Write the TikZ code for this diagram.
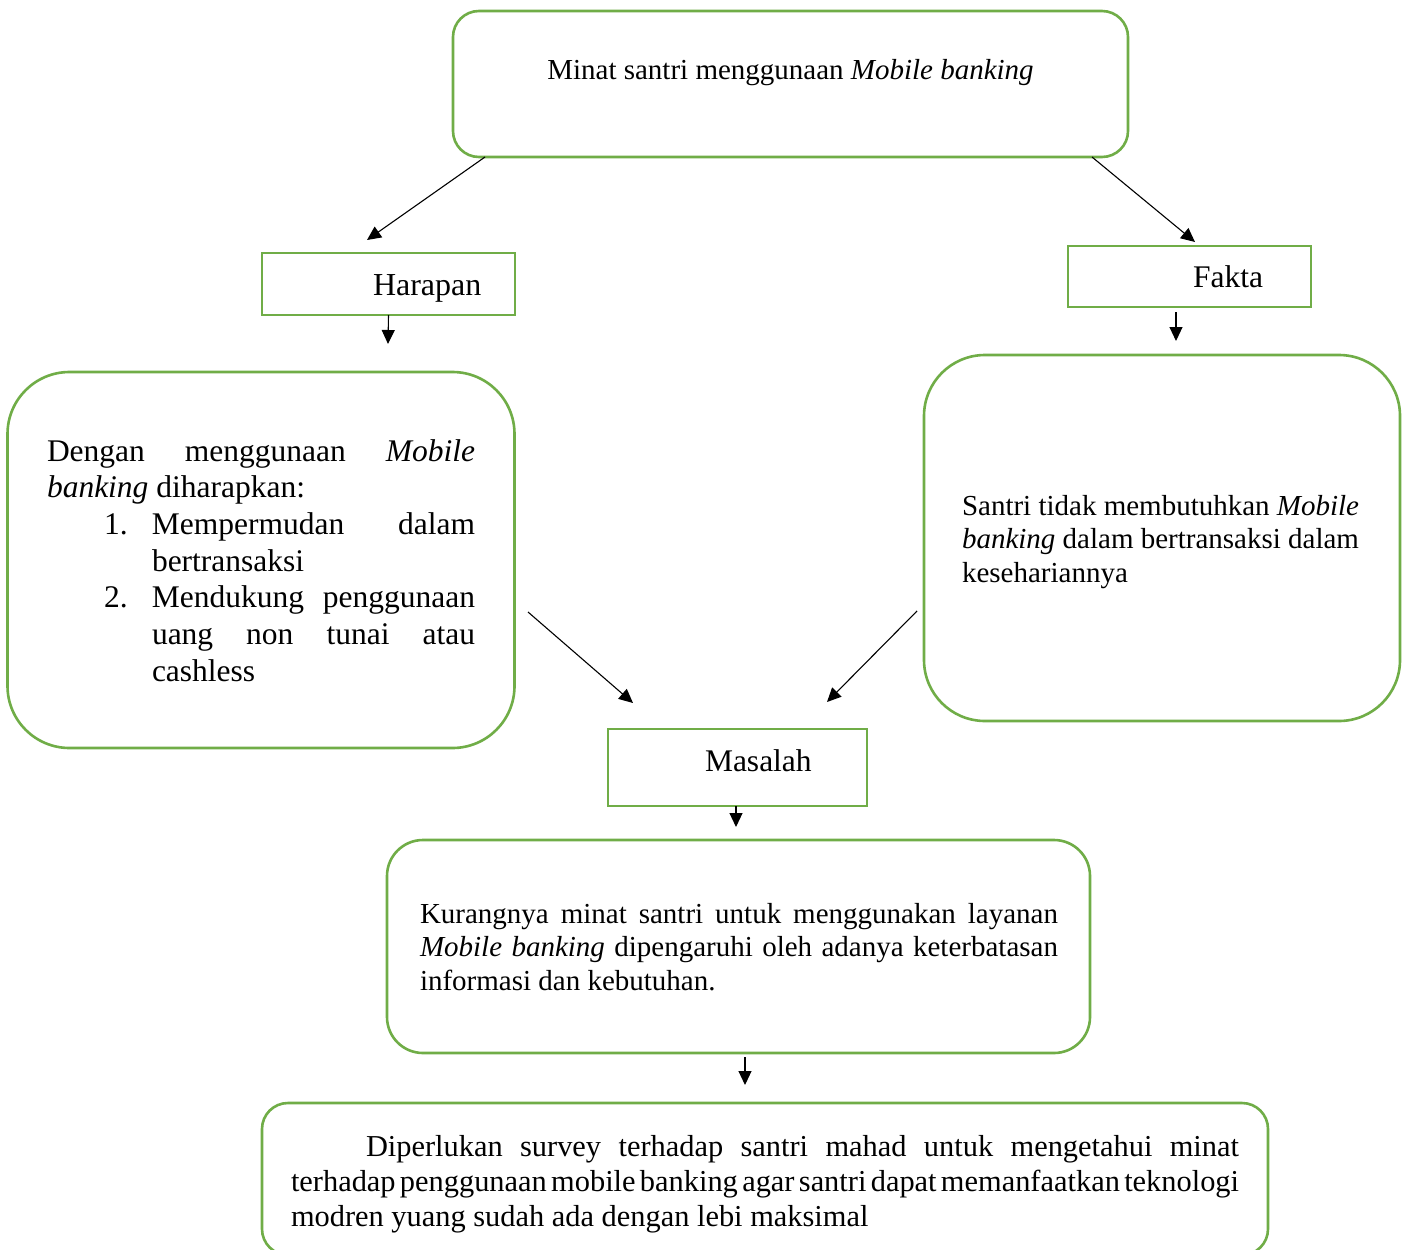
\documentclass[tikz,border=0pt]{standalone}
\usepackage{fontspec}
\setmainfont{Liberation Serif}
\usetikzlibrary{arrows.meta,calc}
\definecolor{boxgreen}{HTML}{70AD47}
\tikzset{
  gbox/.style={draw=boxgreen, line width=2.6pt, inner sep=0pt, outer sep=0pt},
  conn/.style={draw=black, line width=1.1pt, -{Triangle[length=14pt,width=13pt]}},
  txt/.style={inner sep=0pt, outer sep=0pt, anchor=base west, text=black},
}
\begin{document}
\begin{tikzpicture}[x=1pt,y=-1pt]
\useasboundingbox[fill=white] (0,0) rectangle (1408,1250);
\begin{scope}
\clip (0,0) rectangle (1408,1250);
% boxes
\node[gbox, rounded corners=26pt, minimum width=675pt, minimum height=146pt] (top) at (790.5,84) {};
\node[gbox, minimum width=253pt, minimum height=62pt] (harapan) at (388.5,284) {};
\node[gbox, minimum width=243pt, minimum height=61pt] (fakta) at (1189.5,276.5) {};
\node[gbox, rounded corners=62pt, minimum width=507pt, minimum height=376pt] (left) at (261,560) {};
\node[gbox, rounded corners=61pt, minimum width=476pt, minimum height=366pt] (right) at (1162,538) {};
\node[gbox, minimum width=259pt, minimum height=77pt] (masalah) at (737.5,767.5) {};
\node[gbox, rounded corners=36pt, minimum width=703pt, minimum height=213pt] (kurang) at (738.5,946.5) {};
\node[gbox, rounded corners=26pt, minimum width=1006pt, minimum height=152pt] (bottom) at (765,1179) {};
\end{scope}
% texts
\node[txt, anchor=base, font=\fontsize{29}{34}\selectfont] (toptext) at (790.5,79) {Minat santri menggunaan \textit{Mobile banking}};
\node[txt, font=\fontsize{32}{36}\selectfont] (hartext) at (373,295) {Harapan};
\node[txt, font=\fontsize{31.5}{36}\selectfont] (faktext) at (1193,287) {Fakta};
\node[txt, font=\fontsize{31.5}{36}\selectfont] (mastext) at (705,771) {Masalah};
\node[txt, font=\fontsize{31.5}{36.7}\selectfont] (lefttext) at (47,461) {\parbox[t]{428pt}{%
\makebox[428pt][s]{Dengan menggunaan \textit{Mobile}}\\
\textit{banking} diharapkan:\\
\hspace*{57pt}\makebox[48pt][l]{1.}\makebox[323pt][s]{Mempermudan dalam}\\
\hspace*{105pt}bertransaksi\\
\hspace*{57pt}\makebox[48pt][l]{2.}\makebox[323pt][s]{Mendukung penggunaan}\\
\hspace*{105pt}\makebox[323pt][s]{uang non tunai atau}\\
\hspace*{105pt}cashless}};
\node[txt, font=\fontsize{29}{33.5}\selectfont] (righttext) at (962,515) {\parbox[t]{420pt}{%
Santri tidak membutuhkan \textit{Mobile}\\
\textit{banking} dalam bertransaksi dalam\\
kesehariannya}};
\node[txt, font=\fontsize{29}{33.5}\selectfont] (kurtext) at (420,923) {\parbox[t]{638pt}{%
\makebox[638pt][s]{Kurangnya minat santri untuk menggunakan layanan}\\
\makebox[638pt][s]{\textit{Mobile banking} dipengaruhi oleh adanya keterbatasan}\\
informasi dan kebutuhan.}};
\node[txt, font=\fontsize{30.4}{35}\selectfont] (bottext) at (291,1156) {\parbox[t]{948pt}{%
\spaceskip=0.25em plus 0.3em minus 0.12em
\hspace*{75pt}\makebox[873pt][s]{Diperlukan survey terhadap santri mahad untuk mengetahui minat}\\
\makebox[948pt][s]{terhadap penggunaan mobile banking agar santri dapat memanfaatkan teknologi}\\
modren yuang sudah ada dengan lebi maksimal}};
% free arrow ends
\coordinate (harTip) at (367,240);
\coordinate (fakTip) at (1195,242);
\coordinate (harDown) at (388,344);
\coordinate (fakStart) at (1176,312);
\coordinate (fakDown) at (1176,341);
\coordinate (leftStart) at (528,612);
\coordinate (leftTip) at (633,703);
\coordinate (rightStart) at (917,611);
\coordinate (rightTip) at (827,702);
\coordinate (masDown) at (736,827);
\coordinate (kurStart) at (745,1057);
\coordinate (kurDown) at (745,1085);
% connectors
\draw[conn] ($(top.south west)+(32,0)$) -- (harTip);
\draw[conn] ($(top.south east)+(-36,0)$) -- (fakTip);
\draw[conn] (harapan.south) -- (harDown);
\draw[conn] (fakStart) -- (fakDown);
\draw[conn] (leftStart) -- (leftTip);
\draw[conn] (rightStart) -- (rightTip);
\draw[conn] (masalah.south -| masDown) -- (masDown);
\draw[conn] (kurStart) -- (kurDown);
\end{tikzpicture}
\end{document}
